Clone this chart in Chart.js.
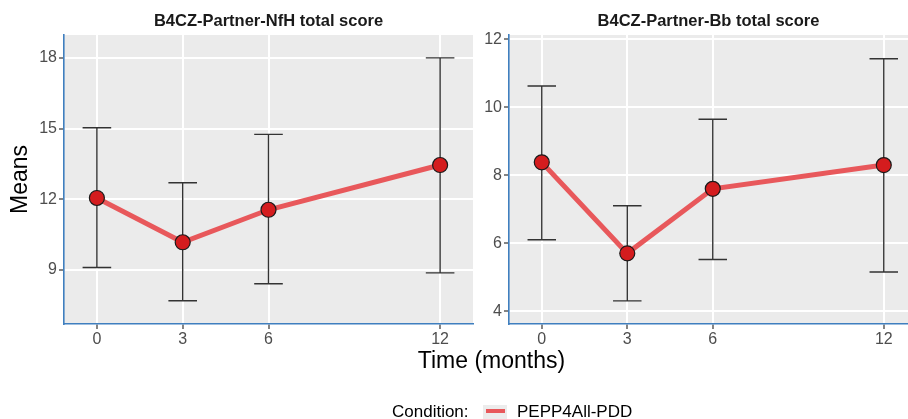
<!DOCTYPE html>
<html>
<head>
<meta charset="utf-8">
<script src="https://cdn.jsdelivr.net/npm/chart.js@4/dist/chart.umd.min.js"></script>
<style>
  body { margin: 0; background: #fff; }
  #wrap { position: relative; width: 908px; height: 419px; overflow: hidden; font-family: "Liberation Sans", Arial, sans-serif; }
  canvas { position: absolute; top: 0; }
  #c1 { left: 0; }
  #c2 { left: 473px; }
  .txt { position: absolute; line-height: 1; white-space: nowrap; color: #000; }
  #xtitle { font-size: 23px; top: 349px; left: 0; width: 983px; text-align: center; }
  #legLabel { font-size: 17px; top: 403px; left: 392px; }
  #legKey { position: absolute; left: 483px; top: 405px; width: 24px; height: 24px; background: #ececec; }
  #legKey span { position: absolute; left: 3px; top: 3.5px; width: 19px; height: 4.5px; background: #e8585b; }
  #legName { font-size: 17px; top: 403px; left: 517px; }
</style>
</head>
<body>
<div id="wrap">
  <canvas id="c1" width="475" height="419"></canvas>
  <canvas id="c2" width="435" height="419"></canvas>
  <div id="xtitle" class="txt">Time (months)</div>
  <div id="legLabel" class="txt">Condition:</div>
  <div id="legKey"><span></span></div>
  <div id="legName" class="txt"></div>
</div>
<script>
// data
const months = [0, 3, 6, 12]
const seriesName = "PEPP4All-PDD"

const nfhTitle = "B4CZ-Partner-NfH total score"
const nfhMean  = [12.05, 10.17, 11.55, 13.45]
const nfhLower = [9.1, 7.69, 8.41, 8.87]
const nfhUpper = [15.03, 12.7, 14.75, 18.0]
const nfhTicks = [9, 12, 15, 18]

const bbTitle = "B4CZ-Partner-Bb total score"
const bbMean  = [8.38, 5.7, 7.6, 8.3]
const bbLower = [6.1, 4.3, 5.52, 5.15]
const bbUpper = [10.63, 7.1, 9.65, 11.43]
const bbTicks = [4, 6, 8, 10, 12]

document.getElementById("legName").textContent = seriesName

Chart.defaults.font.family = '"Liberation Sans", Arial, sans-serif'
Chart.defaults.animation = false

const panelBg = {
    id: "panelBg",
    beforeDraw(chart) {
        const a = chart.chartArea, ctx = chart.ctx
        ctx.save()
        ctx.fillStyle = "#ebebeb"
        ctx.fillRect(a.left, a.top, a.right - a.left, a.bottom - a.top)
        ctx.restore()
    }
}

// error bars, drawn under the line and points
const errorBars = {
    id: "errorBars",
    beforeDatasetsDraw(chart, args, opts) {
        const x = chart.scales.x, y = chart.scales.y, ctx = chart.ctx
        ctx.save()
        ctx.strokeStyle = "#333"
        ctx.lineWidth = 1.4
        months.forEach((m, i) => {
            const px = x.getPixelForValue(m)
            const x0 = x.getPixelForValue(m - 0.5), x1 = x.getPixelForValue(m + 0.5)
            const lo = y.getPixelForValue(opts.lower[i]), hi = y.getPixelForValue(opts.upper[i])
            ctx.beginPath()
            ctx.moveTo(px, lo); ctx.lineTo(px, hi)
            ctx.moveTo(x0, lo); ctx.lineTo(x1, lo)
            ctx.moveTo(x0, hi); ctx.lineTo(x1, hi)
            ctx.stroke()
        })
        ctx.restore()
    }
}

function panel(id, title, mean, lower, upper, yTicks, yMin, yMax, xMax, axisWidth, padRight, showYTitle) {
    return new Chart(document.getElementById(id), {
        type: "line",
        data: {
            datasets: [{
                label: seriesName,
                data: months.map((m, i) => ({ x: m, y: mean[i] })),
                borderColor: "#e8585b",
                borderWidth: 5,
                pointRadius: 7.5,
                pointBackgroundColor: "#d41c1e",
                pointBorderColor: "#1a1a1a",
                pointBorderWidth: 1.2,
                tension: 0
            }]
        },
        options: {
            responsive: false,
            devicePixelRatio: 1,
            layout: { autoPadding: false, padding: { left: 0, right: padRight, top: 0, bottom: 0 } },
            plugins: {
                legend: { display: false },
                tooltip: { enabled: false },
                title: {
                    display: true, text: title, fullSize: false, color: "#1a1a1a",
                    font: { size: 16.5, weight: "bold" },
                    padding: { top: 12, bottom: 3.2 }
                },
                errorBars: { lower, upper }
            },
            scales: {
                x: {
                    type: "linear", min: -1.15, max: xMax,
                    afterBuildTicks: s => { s.ticks = months.map(v => ({ value: v })) },
                    afterFit: s => { s.height = 95; s.paddingLeft = 0; s.paddingRight = 0 },
                    ticks: { color: "#4d4d4d", font: { size: 16 }, padding: 1, maxRotation: 0 },
                    grid: { color: "#fff", lineWidth: 2, tickColor: "#333", tickLength: 5, tickWidth: 1.2 },
                    border: { display: true, color: "#3f7fbf", width: 1.6 }
                },
                y: {
                    min: yMin, max: yMax,
                    afterBuildTicks: s => { s.ticks = yTicks.map(v => ({ value: v })) },
                    afterFit: s => { s.width = axisWidth; s.paddingTop = 0; s.paddingBottom = 0 },
                    ticks: { color: "#4d4d4d", font: { size: 16 }, padding: 2 },
                    grid: { color: "#fff", lineWidth: 2, tickColor: "#333", tickLength: 5, tickWidth: 1.2 },
                    border: { display: true, color: "#3f7fbf", width: 1.6 },
                    title: { display: showYTitle, text: "Means", color: "#000", font: { size: 23 }, padding: { top: 7, bottom: 0 } }
                }
            }
        },
        plugins: [panelBg, errorBars]
    })
}

panel("c1", nfhTitle, nfhMean, nfhLower, nfhUpper, nfhTicks, 6.7, 18.97, 13.15, 64, 2, true)
panel("c2", bbTitle, bbMean, bbLower, bbUpper, bbTicks, 3.62, 12.13, 12.85, 36, 0, false)
</script>
</body>
</html>
